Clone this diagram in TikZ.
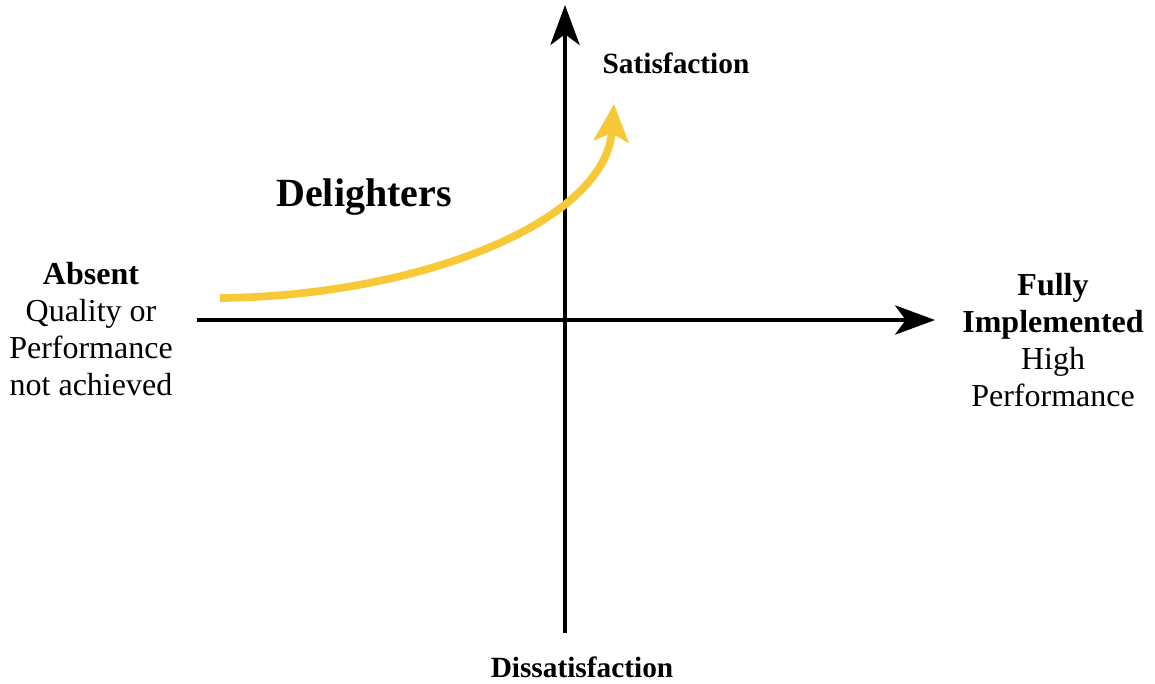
\documentclass[tikz,border=0pt]{standalone}
\usepackage{fontspec}
\setmainfont{Liberation Serif}
\usetikzlibrary{arrows.meta}
\definecolor{gold}{HTML}{F8C936}
\tikzset{
  axis/.style={line width=2.4pt, -{Stealth[length=30pt,width=22pt,inset=8pt]}},
  curvearrow/.style={draw=gold, line width=5.8pt, -{Stealth[length=28pt,width=26pt,inset=6pt]}},
  lbl/.style={inner sep=0pt, align=center, font=\fontsize{24pt}{27.8pt}\selectfont},
  axlbl/.style={inner sep=0pt, font=\fontsize{22pt}{27.8pt}\selectfont\bfseries},
  big/.style={inner sep=0pt, font=\fontsize{30pt}{36pt}\selectfont\bfseries},
}
\begin{document}
\begin{tikzpicture}[x=0.75pt,y=-0.75pt]
\useasboundingbox (0,0) rectangle (1155,683);
% axes end points
\coordinate (xl) at (197,320);
\coordinate (xr) at (935,320);
\coordinate (yb) at (565,633);
\coordinate (yt) at (565,5);
\draw[axis] (xl) -- (xr);
\draw[axis] (yb) -- (yt);
% curve
\coordinate (cs) at (220,298);
\coordinate (ce) at (614,104);
\draw[curvearrow] (cs) .. controls (420,296) and (605,222) .. (ce);
% labels
\node[axlbl] (sat) at (676,63) {Satisfaction};
\node[axlbl] (dis) at (582,667) {Dissatisfaction};
\node[big] (del) at (364,197) {Delighters};
\node[lbl] (abs) at (91,329) {\textbf{Absent}\\Quality or\\Performance\\not achieved};
\node[lbl] (full) at (1053,340) {\textbf{Fully}\\\textbf{Implemented}\\High\\Performance};
\end{tikzpicture}
\end{document}
